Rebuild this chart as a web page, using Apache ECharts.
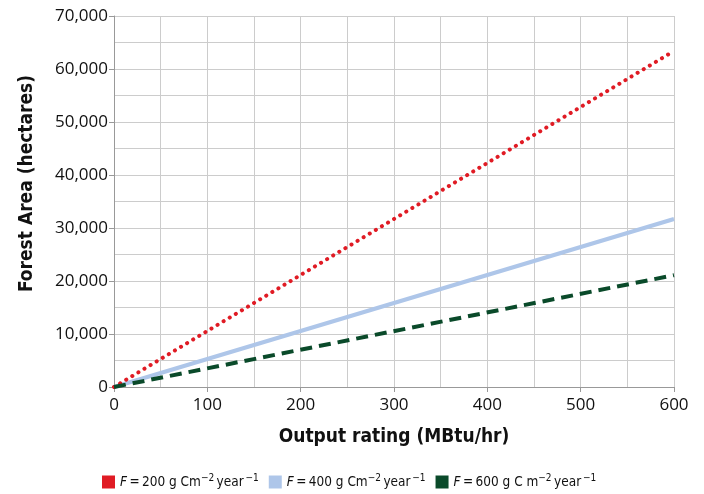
<!DOCTYPE html>
<html><head><meta charset="utf-8">
<script src="https://cdn.jsdelivr.net/npm/echarts@6/dist/echarts.min.js"></script>
<style>html,body{margin:0;padding:0;background:#fff}#c{width:704px;height:494px}</style>
</head><body><div id="c"></div>
<script>
// Data
const outputRating = [0, 600];
const area200 = [0, 63400];
const area400 = [0, 31700];
const area600 = [0, 21100];
const seriesNames = ['F = 200 g Cm−2 year−1', 'F = 400 g Cm−2 year−1', 'F = 600 g C m−2 year−1'];
const legendRich = [
  '{i|F}\u2009=\u2009200 g Cm{s|−2}\u2009year{s|\u2009−1}',
  '{i|F}\u2009=\u2009400 g Cm{s|−2}\u2009year{s|\u2009−1}',
  '{i|F}\u2009=\u2009600 g C m{s|−2}\u2009year{s|\u2009−1}'
];
const colors = ['#e01b24', '#aec6e9', '#0a4a2a'];

const pts = v => outputRating.map((x, i) => [x, v[i]]);
const baseFont = '"Open Sans", sans-serif';
const condFont = '"Liberation Sans Narrow", "DejaVu Sans Condensed", sans-serif';

const chart = echarts.init(document.getElementById('c'));
chart.setOption({
  animation: false,
  grid: {left: 114, right: 30, top: 16, bottom: 107},
  legend: {
    top: 468, left: 97, itemWidth: 13, itemHeight: 13, itemGap: 10, icon: 'rect',
    data: seriesNames,
    formatter: name => legendRich[seriesNames.indexOf(name)],
    textStyle: {
      fontFamily: condFont, fontSize: 13.5, color: '#111',
      rich: {
        i: {fontStyle: 'italic', fontFamily: condFont, fontSize: 13.5, color: '#111'},
        s: {fontSize: 10, fontFamily: condFont, color: '#111', padding: [0, 0, 8, 0]}
      }
    }
  },
  xAxis: {
    type: 'value', min: 0, max: 600, interval: 100,
    name: 'Output rating (MBtu/hr)', nameLocation: 'middle', nameGap: 41,
    nameTextStyle: {fontFamily: condFont, fontWeight: 'bold', fontSize: 19, color: '#111'},
    axisLine: {show: true, lineStyle: {color: '#999', width: 1}},
    axisTick: {show: true, length: 5, lineStyle: {color: '#999'}},
    axisLabel: {fontFamily: baseFont, fontSize: 17, color: '#111', margin: 10},
    splitLine: {show: true, lineStyle: {color: '#ccc', width: 1}},
    minorTick: {show: false, splitNumber: 2},
    minorSplitLine: {show: true, lineStyle: {color: '#ccc', width: 1}}
  },
  yAxis: {
    type: 'value', min: 0, max: 70000, interval: 10000,
    name: 'Forest Area (hectares)', nameLocation: 'middle', nameGap: 77, nameRotate: 90,
    nameTextStyle: {fontFamily: condFont, fontWeight: 'bold', fontSize: 19, color: '#111',
      padding: [0, 0, 0, 36]},
    axisLine: {show: true, lineStyle: {color: '#999', width: 1}},
    axisTick: {show: true, length: 5, lineStyle: {color: '#999'}},
    axisLabel: {fontFamily: baseFont, fontSize: 17, color: '#111', margin: 6,
      formatter: v => v.toLocaleString('en-US')},
    splitLine: {show: true, lineStyle: {color: '#ccc', width: 1}},
    minorTick: {show: false, splitNumber: 2},
    minorSplitLine: {show: true, lineStyle: {color: '#ccc', width: 1}}
  },
  series: [
    {name: seriesNames[0], type: 'line', data: pts(area200), showSymbol: false, z: 3,
     itemStyle: {color: colors[0]},
     lineStyle: {color: colors[0], width: 4, type: [0.1, 7], cap: 'round'}},
    {name: seriesNames[1], type: 'line', data: pts(area400), showSymbol: false, z: 2,
     itemStyle: {color: colors[1]},
     lineStyle: {color: colors[1], width: 4, type: 'solid'}},
    {name: seriesNames[2], type: 'line', data: pts(area600), showSymbol: false, z: 4,
     itemStyle: {color: colors[2]},
     lineStyle: {color: colors[2], width: 4, type: [12, 7]}}
  ]
});
</script></body></html>
